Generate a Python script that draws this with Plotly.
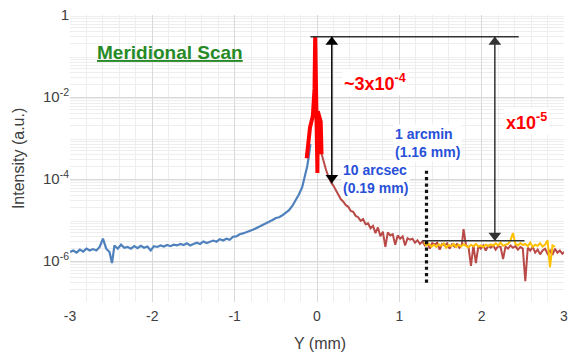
import numpy as np
import plotly.graph_objects as go

# ---- measured profiles (Y in mm, intensity in a.u.) ----
blue_x = [-3.00, -2.96, -2.92, -2.88, -2.84, -2.80, -2.76, -2.72, -2.68, -2.64,
          -2.60, -2.56, -2.52, -2.49, -2.46, -2.42, -2.38, -2.34, -2.30, -2.26,
          -2.22, -2.18, -2.14, -2.10, -2.06, -2.02, -1.98, -1.94, -1.90, -1.86,
          -1.82, -1.78, -1.74, -1.70, -1.66, -1.62, -1.58, -1.54, -1.50, -1.46,
          -1.42, -1.38, -1.34, -1.30, -1.26, -1.22, -1.18, -1.14, -1.10, -1.06,
          -1.02, -0.98, -0.94, -0.90, -0.86, -0.82, -0.78, -0.74, -0.70, -0.66,
          -0.62, -0.58, -0.54, -0.50, -0.46, -0.42, -0.38, -0.34, -0.30, -0.26,
          -0.22, -0.18, -0.15, -0.12, -0.10, -0.08]
blue_y = [1.66e-6, 1.8e-6, 1.6e-6, 1.9e-6, 1.7e-6, 2.0e-6, 1.8e-6, 1.95e-6, 1.8e-6, 2.2e-6,
          3.5e-6, 2.0e-6, 1.66e-6, 8.9e-7, 2.4e-6, 2.0e-6, 2.5e-6, 2.1e-6, 2.2e-6, 2.0e-6,
          2.3e-6, 2.05e-6, 2.35e-6, 2.1e-6, 2.25e-6, 1.8e-6, 2.3e-6, 2.2e-6, 2.4e-6, 2.25e-6,
          2.45e-6, 2.3e-6, 2.5e-6, 2.4e-6, 2.6e-6, 2.45e-6, 2.7e-6, 2.4e-6, 2.6e-6, 2.8e-6,
          2.6e-6, 3.0e-6, 2.75e-6, 2.9e-6, 3.15e-6, 2.95e-6, 3.4e-6, 3.15e-6, 3.5e-6, 3.3e-6,
          3.9e-6, 4.0e-6, 4.5e-6, 4.7e-6, 5.0e-6, 5.4e-6, 5.75e-6, 6.3e-6, 6.9e-6, 7.6e-6,
          8.1e-6, 9.1e-6, 1.0e-5, 1.12e-5, 1.17e-5, 1.3e-5, 1.48e-5, 1.74e-5, 2.2e-5, 3.0e-5,
          4.2e-5, 6.3e-5, 1.05e-4, 2.0e-4, 3.5e-4, 7.1e-4]

peak_x = [-0.125, -0.085, -0.05, -0.03, -0.022, -0.012, -0.005, 0.005, 0.01, 0.045, 0.055]
peak_y = [3.2e-4, 1.8e-3, 3.5e-3, 1.6e-2, 0.295, 1.6e-2, 6.3e-3, 1.4e-4, 4.5e-3, 2.5e-3, 4.0e-4]

right_x = [0.05, 0.08, 0.11, 0.14, 0.17, 0.20, 0.23, 0.26, 0.29, 0.32,
           0.35, 0.38, 0.41, 0.44, 0.47, 0.50, 0.53, 0.56, 0.59, 0.62,
           0.65, 0.68, 0.71, 0.74, 0.77, 0.80, 0.83, 0.86, 0.89, 0.92,
           0.95, 0.98, 1.01, 1.04, 1.07, 1.10, 1.13, 1.16, 1.19, 1.22,
           1.25, 1.28, 1.31, 1.34, 1.37, 1.40, 1.43, 1.46, 1.49, 1.52,
           1.55, 1.58, 1.61, 1.64, 1.67, 1.70, 1.73, 1.76, 1.78, 1.81,
           1.84, 1.87, 1.90, 1.93, 1.96, 1.99, 2.02, 2.05, 2.08, 2.11,
           2.14, 2.17, 2.20, 2.23, 2.26, 2.29, 2.32, 2.35, 2.38, 2.41,
           2.44, 2.47, 2.50, 2.53, 2.56, 2.59, 2.62, 2.65, 2.68, 2.71,
           2.74, 2.77, 2.80, 2.83, 2.86, 2.89, 2.92, 2.95, 2.98, 3.00]
right_y = [4.5e-4, 2.6e-4, 1.66e-4, 1.12e-4, 8.3e-5, 6.8e-5, 5.2e-5, 4.0e-5, 3.2e-5, 2.8e-5,
           2.3e-5, 2.1e-5, 1.66e-5, 1.58e-5, 1.26e-5, 1.17e-5, 9.5e-6, 1.05e-5, 7.9e-6, 8.3e-6,
           6.3e-6, 7.2e-6, 4.8e-6, 6.6e-6, 4.0e-6, 5.2e-6, 2.2e-6, 5.0e-6, 4.2e-6, 4.5e-6,
           2.5e-6, 4.2e-6, 3.5e-6, 4.0e-6, 2.4e-6, 3.6e-6, 3.3e-6, 3.5e-6, 2.8e-6, 3.2e-6,
           2.6e-6, 3.0e-6, 2.4e-6, 2.8e-6, 2.0e-6, 2.75e-6, 2.5e-6, 2.8e-6, 1.9e-6, 2.6e-6,
           2.4e-6, 2.7e-6, 2.0e-6, 2.55e-6, 2.25e-6, 2.6e-6, 2.1e-6, 2.5e-6, 6.0e-6, 2.4e-6,
           2.2e-6, 7.6e-7, 2.4e-6, 8.9e-7, 2.3e-6, 2.0e-6, 2.4e-6, 1.8e-6, 2.35e-6, 2.1e-6,
           2.4e-6, 1.9e-6, 2.3e-6, 2.2e-6, 1.12e-6, 2.25e-6, 2.0e-6, 2.4e-6, 2.1e-6, 2.3e-6,
           1.9e-6, 2.2e-6, 2.0e-6, 3.2e-7, 2.1e-6, 1.8e-6, 2.2e-6, 1.6e-6, 1.9e-6, 1.45e-6,
           1.8e-6, 2.0e-6, 1.5e-6, 1.8e-6, 1.4e-6, 2.0e-6, 1.6e-6, 1.8e-6, 1.5e-6, 1.66e-6]

yellow_x = [1.30, 1.33, 1.36, 1.39, 1.42, 1.45, 1.48, 1.51, 1.54, 1.57,
            1.60, 1.63, 1.66, 1.69, 1.72, 1.75, 1.78, 1.81, 1.84, 1.87,
            1.90, 1.93, 1.96, 1.99, 2.02, 2.05, 2.08, 2.11, 2.14, 2.17,
            2.20, 2.23, 2.26, 2.29, 2.32, 2.35, 2.38, 2.41, 2.44, 2.47,
            2.50, 2.53, 2.56, 2.59, 2.62, 2.65, 2.68, 2.71, 2.74, 2.77,
            2.80, 2.83, 2.86, 2.89]
yellow_y = [2.8e-6, 2.4e-6, 2.6e-6, 2.25e-6, 2.5e-6, 2.2e-6, 2.55e-6, 2.35e-6, 2.7e-6, 2.1e-6,
            2.45e-6, 2.3e-6, 2.6e-6, 2.2e-6, 2.5e-6, 2.25e-6, 2.55e-6, 2.35e-6, 2.15e-6, 2.5e-6,
            2.3e-6, 2.6e-6, 2.25e-6, 2.4e-6, 2.2e-6, 2.5e-6, 2.3e-6, 2.55e-6, 2.35e-6, 2.7e-6,
            2.4e-6, 2.8e-6, 2.35e-6, 2.5e-6, 2.6e-6, 3.2e-6, 4.8e-6, 2.6e-6, 2.4e-6, 2.75e-6,
            2.45e-6, 2.6e-6, 2.3e-6, 2.8e-6, 2.2e-6, 2.5e-6, 2.35e-6, 2.7e-6, 2.25e-6, 2.5e-6,
            3.2e-6, 7.1e-7, 2.4e-6, 2.2e-6]

# reference levels used by the arrows
peak_level = 0.295
near_level = 7.9e-5
far_level = 3.1e-6
arrow_near_x = 0.18
arrow_far_x = 2.16
ref_line_x = [-0.08, 2.45]
floor_line_x = [1.28, 2.52]
cut_x = 1.33
cut_y = [1.6e-4, 2.6e-7]

# axis ticks
y_tickvals = [1e-6, 1e-4, 1e-2, 1]
y_ticktext = ["10<sup>-6</sup>", "10<sup>-4</sup>", "10<sup>-2</sup>", "1"]
y_odd_decades = [1e-7, 1e-5, 1e-3, 1e-1]
y_minor = [m * 10.0 ** e for e in range(-7, 0) for m in range(2, 10)]
x_tickvals = [-3, -2, -1, 0, 1, 2, 3]

BLUE = "#4f81bd"
DARK_RED = "#b94a48"
RED = "#ff0000"
YELLOW = "#ffc000"
TEXT_BLUE = "#2850d8"
GRID = "#d9d9d9"
GRID_MINOR = "#eeeeee"
FONT = "Liberation Sans, Arial, sans-serif"
HEAD_SIZE = 11
HEAD_OFFSET = 0.13  # decades between a triangle's centre and its tip

fig = go.Figure()
fig.add_trace(go.Scatter(x=blue_x, y=blue_y, mode="lines",
                         line=dict(color=BLUE, width=2.2)))
fig.add_trace(go.Scatter(x=right_x, y=right_y, mode="lines",
                         line=dict(color=DARK_RED, width=2)))
fig.add_trace(go.Scatter(x=yellow_x, y=yellow_y, mode="lines",
                         line=dict(color=YELLOW, width=2)))
fig.add_trace(go.Scatter(x=peak_x, y=peak_y, mode="lines",
                         line=dict(color=RED, width=4)))

# horizontal reference levels
fig.add_trace(go.Scatter(x=ref_line_x, y=[peak_level, peak_level], mode="lines",
                         line=dict(color="#333333", width=1.5)))
fig.add_trace(go.Scatter(x=floor_line_x, y=[far_level, far_level], mode="lines",
                         line=dict(color="#333333", width=1.5)))
# angular cut marker
fig.add_trace(go.Scatter(x=[cut_x, cut_x], y=cut_y, mode="lines",
                         line=dict(color="#111111", width=3.2, dash="dot")))

# double-headed arrows: shaft plus a triangle at each end
for ax_x, lo, col in [(arrow_near_x, near_level, "#000000"), (arrow_far_x, far_level, "#333333")]:
    fig.add_trace(go.Scatter(x=[ax_x, ax_x], y=[lo, peak_level], mode="lines",
                             line=dict(color=col, width=1.5)))
    fig.add_trace(go.Scatter(x=[ax_x, ax_x],
                             y=[peak_level / 10 ** HEAD_OFFSET, lo * 10 ** HEAD_OFFSET],
                             mode="markers",
                             marker=dict(symbol=["triangle-up", "triangle-down"],
                                         size=HEAD_SIZE, color=col, line=dict(width=0))))

lg = np.log10

def label(x, y, text, color, size):
    fig.add_annotation(x=x, y=lg(y), xref="x", yref="y", text=text, showarrow=False,
                       font=dict(family=FONT, size=size, color=color),
                       bgcolor="white", align="left", xanchor="left", yanchor="middle",
                       borderpad=1)

label(0.30, 10 ** -1.65, "<b>~3x10<sup>-4</sup></b>", RED, 18)
label(2.27, 10 ** -2.6, "<b>x10<sup>-5</sup></b>", RED, 18)
label(0.92, 10 ** -3.13, "<b>1 arcmin<br>(1.16 mm)</b>", TEXT_BLUE, 14)
label(0.29, 10 ** -4.01, "<b>10 arcsec<br>(0.19 mm)</b>", TEXT_BLUE, 14)

fig.add_annotation(x=-1.78, y=lg(10 ** -0.92), xref="x", yref="y",
                   text="<b><u>Meridional Scan</u></b>", showarrow=False,
                   font=dict(family=FONT, size=19, color="#268a26"))

# axis titles
fig.add_annotation(x=0.04, y=0, xref="x", yref="paper", yshift=-41, yanchor="middle",
                   text="Y (mm)", showarrow=False,
                   font=dict(family=FONT, size=16, color="#404040"))
fig.add_annotation(x=-0.104, y=0.5, xref="paper", yref="paper", xanchor="center",
                   yanchor="middle", text="Intensity (a.u.)", textangle=-90,
                   showarrow=False, font=dict(family=FONT, size=16, color="#404040"))

fig.update_layout(
    width=574, height=356, margin=dict(l=70, r=6, t=14, b=54),
    paper_bgcolor="white", plot_bgcolor="white", showlegend=False,
    font=dict(family=FONT),
    xaxis=dict(range=[-3, 3], tickmode="array", tickvals=x_tickvals,
               ticktext=[str(v) for v in x_tickvals],
               showgrid=True, gridcolor=GRID, gridwidth=1.3, zeroline=False,
               showline=False, ticks="", ticklabelstandoff=4,
               tickfont=dict(family=FONT, size=14, color="#404040"),
               minor=dict(dtick=0.2, tick0=0, showgrid=True, gridcolor=GRID_MINOR,
                          gridwidth=1)),
    yaxis=dict(type="log", range=[-7, 0], tickmode="array", tickvals=y_tickvals,
               ticktext=y_ticktext, showgrid=True, gridcolor=GRID, gridwidth=1.3,
               zeroline=False, showline=False, ticks="",
               tickfont=dict(family=FONT, size=15, color="#404040"),
               minor=dict(tickmode="array", tickvals=y_minor, showgrid=True,
                          gridcolor=GRID_MINOR, gridwidth=1)),
    # unlabeled decade gridlines in between the labeled ones
    yaxis2=dict(type="log", range=[-7, 0], overlaying="y", side="left",
                tickmode="array", tickvals=y_odd_decades, showticklabels=False,
                showgrid=True, gridcolor=GRID, gridwidth=1.3, zeroline=False,
                showline=False, ticks=""),
)

fig.write_html("out.html")
